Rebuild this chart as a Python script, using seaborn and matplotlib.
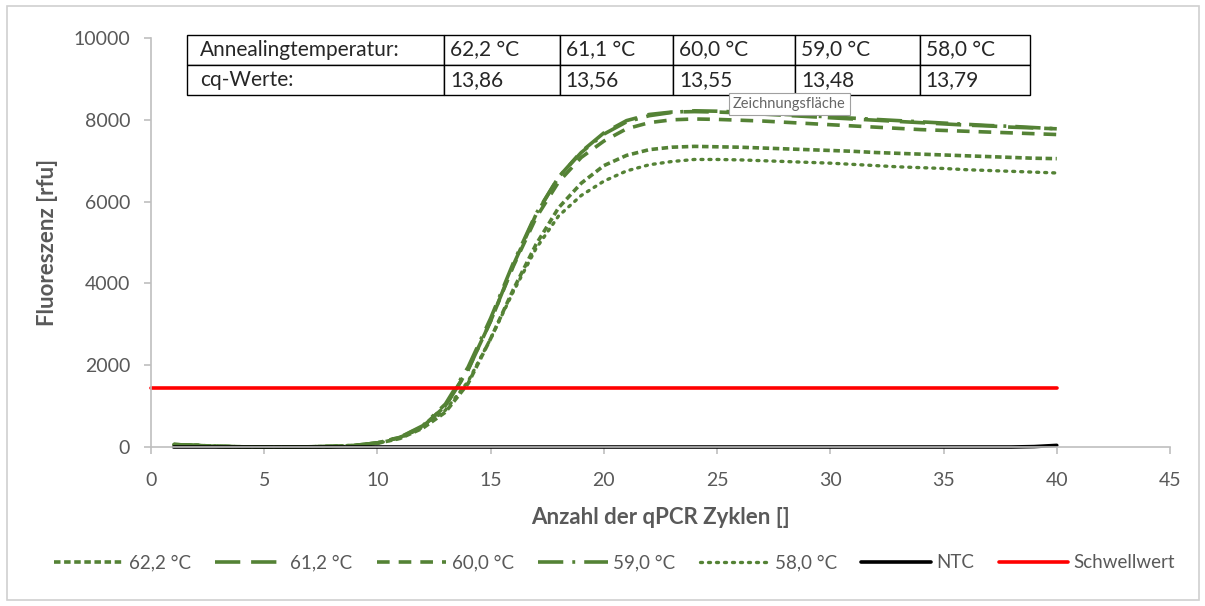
import numpy as np
import pandas as pd
import matplotlib
matplotlib.use("Agg")
import matplotlib.pyplot as plt
from matplotlib.patches import Rectangle
import seaborn as sns

sns.set_style("white")
plt.rcParams['font.family'] = ['Lato', 'DejaVu Sans']

cycles = list(range(1, 41))

s62_2 = [60, 40, 15, 5, 0, 0, 5, 12, 35, 90, 210, 460, 850, 1550, 2650, 3850, 4950, 5850, 6450, 6880,
         7130, 7270, 7330, 7350, 7340, 7330, 7310, 7290, 7270, 7250, 7230, 7200, 7180, 7160, 7140, 7120,
         7100, 7080, 7060, 7050]
s61_2 = [60, 40, 15, 5, 0, 0, 5, 15, 40, 100, 235, 500, 1000, 1880, 3080, 4450, 5680, 6600, 7220, 7680,
         7980, 8130, 8190, 8200, 8190, 8170, 8140, 8110, 8080, 8050, 8020, 7990, 7960, 7930, 7900, 7870,
         7850, 7820, 7800, 7780]
s60_0 = [60, 40, 15, 5, 0, 0, 5, 15, 40, 100, 235, 500, 1010, 1890, 3080, 4420, 5600, 6480, 7080, 7480,
         7780, 7930, 8000, 8020, 8010, 7990, 7970, 7940, 7910, 7880, 7850, 7820, 7790, 7760, 7740, 7720,
         7700, 7680, 7660, 7640]
s59_0 = [60, 40, 15, 5, 0, 0, 5, 15, 40, 100, 240, 520, 1050, 1950, 3150, 4500, 5700, 6600, 7200, 7650,
         7950, 8100, 8180, 8220, 8210, 8190, 8160, 8130, 8100, 8070, 8040, 8010, 7980, 7950, 7920, 7890,
         7860, 7840, 7810, 7780]
s58_0 = [60, 40, 15, 5, 0, 0, 5, 12, 35, 90, 220, 480, 900, 1600, 2650, 3800, 4850, 5650, 6150, 6500,
         6750, 6900, 6980, 7030, 7030, 7020, 7000, 6980, 6960, 6940, 6910, 6880, 6850, 6830, 6810, 6780,
         6760, 6740, 6720, 6700]
ntc = [0] * 38 + [10, 40]
threshold_cycles = [0, 40]
threshold = [1450, 1450]

series_names = ['62,2 °C', '61,2 °C', '60,0 °C', '59,0 °C', '58,0 °C', 'NTC', 'Schwellwert']
series_x = [cycles] * 6 + [threshold_cycles]
series_vals = [s62_2, s61_2, s60_0, s59_0, s58_0, ntc, threshold]

table_header = ['Annealingtemperatur:', '62,2 °C', '61,1 °C', '60,0 °C', '59,0 °C', '58,0 °C']
table_cq = ['cq-Werte:', '13,86', '13,56', '13,55', '13,48', '13,79']

green = '#548235'
styles = {
    '62,2 °C': dict(color=green, ls=(0, (1.8, 1.0)), lw=2.6),
    '61,2 °C': dict(color=green, ls=(0, (7, 3)), lw=2.6),
    '60,0 °C': dict(color=green, ls=(0, (3.5, 2.5)), lw=2.6),
    '59,0 °C': dict(color=green, ls=(0, (7, 2.5, 0.8, 2.5)), lw=2.6),
    '58,0 °C': dict(color=green, ls=(0, (0.6, 1.8)), lw=2.4),
    'NTC': dict(color='black', ls='-', lw=2.6),
    'Schwellwert': dict(color='#ff0000', ls='-', lw=2.6),
}

frames = []
for name, xs, ys in zip(series_names, series_x, series_vals):
    frames.append(pd.DataFrame({'Zyklus': xs, 'Fluoreszenz': ys, 'Serie': name}))
df = pd.concat(frames, ignore_index=True)

fig = plt.figure(figsize=(12.05, 6.06), dpi=100)
ax = fig.add_axes([151/1205, 1-447/606, (1170-151)/1205, (447-38)/606])

for name in series_names:
    st = styles[name]
    sub = df[df['Serie'] == name]
    sns.lineplot(data=sub, x='Zyklus', y='Fluoreszenz', ax=ax, color=st['color'],
                 linestyle=st['ls'], linewidth=st['lw'], label=name, legend=False,
                 dash_capstyle='butt' if name != '58,0 °C' else 'round', clip_on=False)

ax.set_xlim(0, 45)
ax.set_ylim(0, 10000)
ax.set_xticks(range(0, 46, 5))
ax.set_yticks(range(0, 10001, 2000))
gray = '#595959'
ax.tick_params(axis='both', colors='#bfbfbf', labelcolor=gray, labelsize=14,
               direction='out', length=5, width=1.2, bottom=True, left=True)
ax.tick_params(axis='x', pad=13)
ax.tick_params(axis='y', pad=10)
for s in ['top', 'right']:
    ax.spines[s].set_visible(False)
for s in ['left', 'bottom']:
    ax.spines[s].set_color('#bfbfbf')
    ax.spines[s].set_linewidth(1.2)
ax.set_xlabel('Anzahl der qPCR Zyklen []', fontsize=16, fontweight='bold', color=gray, labelpad=13)
ax.set_ylabel('Fluoreszenz [rfu]', fontsize=16, fontweight='bold', color=gray, labelpad=11)

# table
col_px = [257, 116, 113, 122, 125, 110]
tot = sum(col_px)
tw = (1030-187)/1019
tbl = ax.table(cellText=[table_header, table_cq], cellLoc='left',
               colWidths=[c/tot*tw for c in col_px],
               bbox=[(187-151)/1019, (447-95)/409, tw, 60/409])
tbl.auto_set_font_size(False)
tbl.set_fontsize(15)
for (r, c), cell in tbl.get_celld().items():
    cell.set_edgecolor('black')
    cell.set_linewidth(1.0)
    cell.get_text().set_color('#262626')
    cell.PAD = 0.05
tbl.set_zorder(5)

# tooltip
fig.text(733/1205, 1-104/606, 'Zeichnungsfläche', fontsize=10.5, color='#666666', va='center', ha='left',
         bbox=dict(boxstyle='square,pad=0.3', fc='white', ec='#a0a0a0', lw=0.8))

handles, labels = ax.get_legend_handles_labels()
leg = fig.legend(handles, labels, loc='center', bbox_to_anchor=(0.510, 1-563/606), ncol=7,
                 frameon=False, fontsize=13.5, handlelength=3.7, handletextpad=0.3, columnspacing=1.3)
for t in leg.get_texts():
    t.set_color(gray)

fig.patches.append(Rectangle((7/1205, 6/606), 1192/1205, 594/606, transform=fig.transFigure,
                             fill=False, ec='#d0d0d0', lw=1.2))

fig.savefig('out.png', dpi=100, facecolor='white')
